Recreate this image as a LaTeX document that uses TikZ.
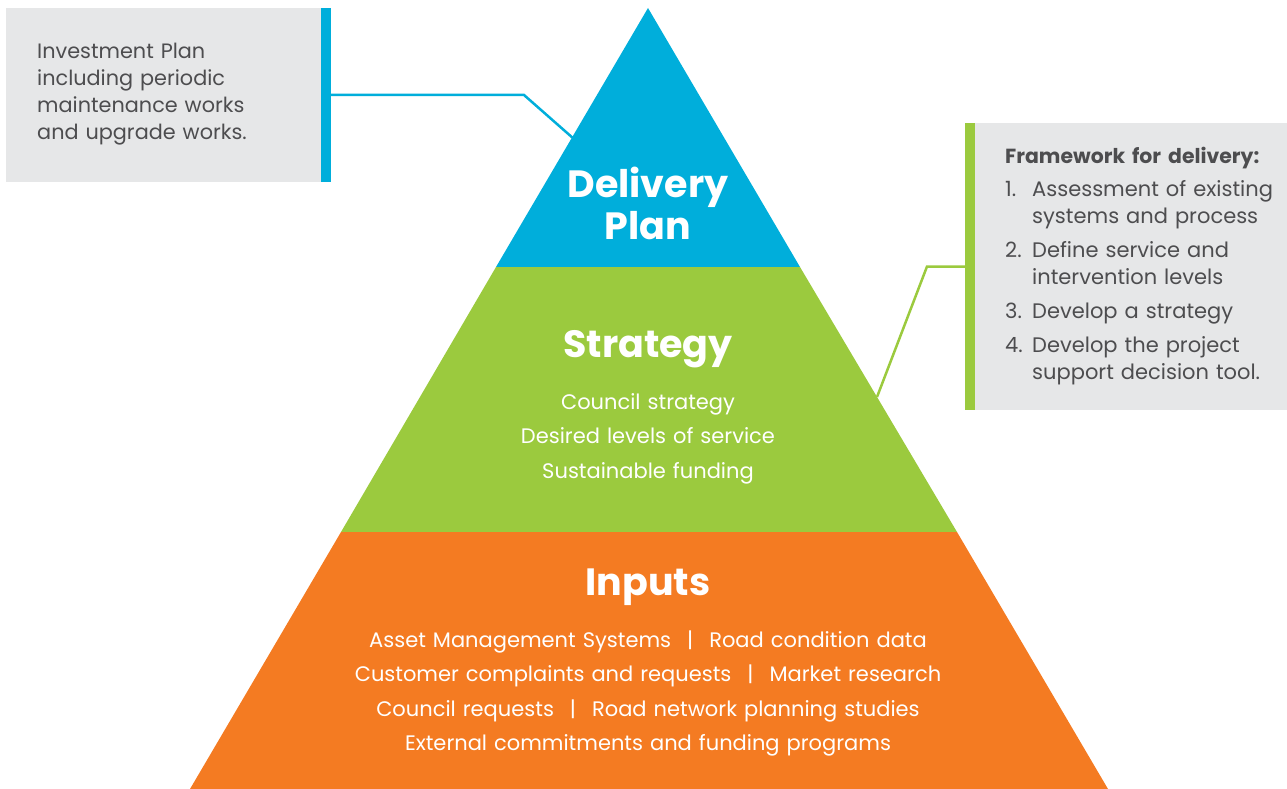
\documentclass[tikz,border=0pt]{standalone}
\usepackage{fontspec}
\setmainfont{Poppins}

\definecolor{deliveryblue}{HTML}{00AEDB}
\definecolor{strategygreen}{HTML}{9BCA3E}
\definecolor{inputsorange}{HTML}{F47B22}
\definecolor{boxgrey}{HTML}{E6E7E8}
\definecolor{notegrey}{HTML}{4D4D4F}

\newcommand{\sep}{\hspace{16pt}|\hspace{16pt}}

\tikzset{
	level title/.style = {text = white, font = \fontsize{38}{42}\selectfont\bfseries, align = center, inner sep = 0pt},
	level items/.style = {text = white, font = \fontsize{21}{34.5}\selectfont, align = center, inner sep = 0pt},
	note text/.style = {text = notegrey, font = \fontsize{20.8}{26.7}\selectfont, align = left, inner sep = 0pt},
	note box/.style = {fill = boxgrey, inner sep = 0pt},
	bar/.style = {inner sep = 0pt, minimum width = 10}
}

\begin{document}
\begin{tikzpicture}[x = 1pt, y = -1pt]
	\useasboundingbox (0,0) rectangle (1287,789);

	% pyramid corners
	\coordinate (apex) at (648,8);
	\coordinate (dl) at (496,267);
	\coordinate (dr) at (800,267);
	\coordinate (sl) at (341,532);
	\coordinate (sr) at (957,532);
	\coordinate (bl) at (190,789);
	\coordinate (br) at (1108,789);

	\fill[deliveryblue] (apex) -- (dr) -- (dl) -- cycle;
	\fill[strategygreen] (dl) -- (dr) -- (sr) -- (sl) -- cycle;
	\fill[inputsorange] (sl) -- (sr) -- (br) -- (bl) -- cycle;

	\node[level title, text width = 300, anchor = base] (delivery) at (648,197) {Delivery\\Plan};
	\node[level title, anchor = base] (strategy) at (648,357) {Strategy};
	\node[level items, text width = 400, anchor = base] (strategyitems) at (648,409)
		{Council strategy\\Desired levels of service\\Sustainable funding};
	\node[level title, anchor = base] (inputs) at (648,595) {Inputs};
	\node[level items, text width = 700, anchor = base] (inputitems) at (648,647)
		{Asset Management Systems\sep Road condition data\\
		 Customer complaints and requests\sep Market research\\
		 Council requests\sep Road network planning studies\\
		 External commitments and funding programs};

	% left note
	\node[note box, minimum width = 315, minimum height = 174] (investbox) at (163.5,95) {};
	\node[bar, fill = deliveryblue, minimum height = 174] (investbar) at (326,95) {};
	\node[note text, text width = 260, anchor = base west] (invest) at (37,59)
		{Investment Plan\\including periodic\\maintenance works\\and upgrade works.};
	\coordinate (dbend) at (524,95);
	\coordinate (dpin) at (574,139);
	\draw[deliveryblue, line width = 2.5] (investbar.east) -- (dbend) -- (dpin);

	% right note
	\node[note box, minimum width = 312, minimum height = 287] (framebox) at (1131,266.5) {};
	\node[bar, fill = strategygreen, minimum height = 287] (framebar) at (970,266.5) {};
	\node[note text, font = \fontsize{21}{27}\selectfont, text width = 280, anchor = base west] (frame) at (1005,163)
		{{\fontsize{20.4}{27}\selectfont\textbf{Framework for delivery:}}\\[6pt]
		 \makebox[27pt][l]{1.}Assessment of existing\\
		 \hspace*{27pt}systems and process\\[7pt]
		 \makebox[27pt][l]{2.}Define service and\\
		 \hspace*{27pt}intervention levels\\[7pt]
		 \makebox[27pt][l]{3.}Develop a strategy\\[7pt]
		 \makebox[27pt][l]{4.}Develop the project\\
		 \hspace*{27pt}support decision tool.};
	\coordinate (sbend) at (927,266.5);
	\coordinate (spin) at (877,397);
	\draw[strategygreen, line width = 2.5] (framebar.west) -- (sbend) -- (spin);
\end{tikzpicture}
\end{document}
